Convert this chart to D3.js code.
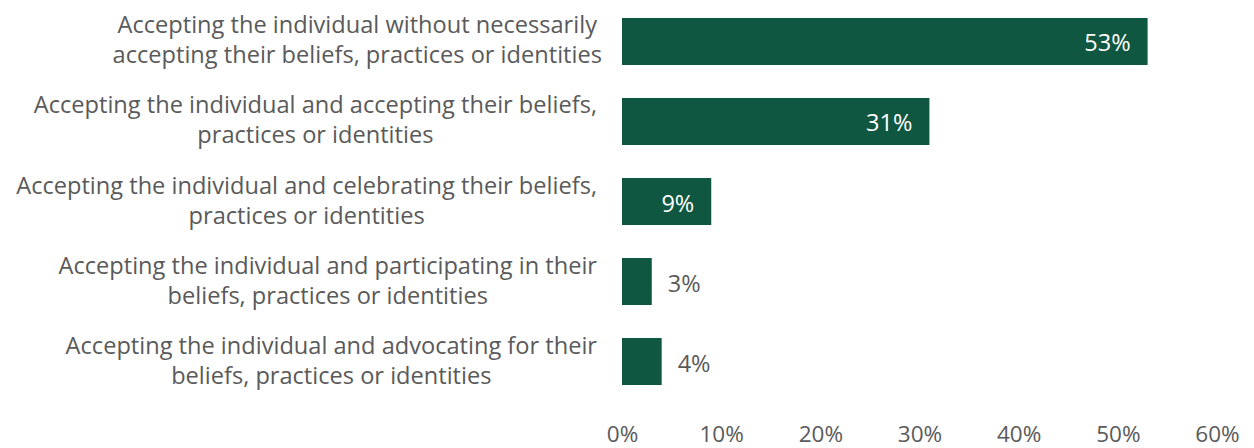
<!DOCTYPE html>
<html>
<head>
<meta charset="utf-8">
<script src="https://cdn.jsdelivr.net/npm/d3@7"></script>
<style>
  html, body { margin: 0; padding: 0; background: #fff; }
  svg { display: block; }
  text { font-family: "Open Sans", "Noto Sans", sans-serif; font-weight: 400; }
</style>
</head>
<body>
<svg id="chart" width="1254" height="448"></svg>
<script>
// Response categories (two-line labels) and share of respondents (%)
const categories = [
  ["Accepting the individual without necessarily", "accepting their beliefs, practices or identities"],
  ["Accepting the individual and accepting their beliefs,", "practices or identities"],
  ["Accepting the individual and celebrating their beliefs,", "practices or identities"],
  ["Accepting the individual and participating in their", "beliefs, practices or identities"],
  ["Accepting the individual and advocating for their", "beliefs, practices or identities"]
];
const values = [53, 31, 9, 3, 4];
const tickValues = [0, 10, 20, 30, 40, 50, 60];

const svg = d3.select("#chart");
const barColor = "#0f5741";
const textColor = "#5a5a5a";
const fontFamily = "'Open Sans', 'Noto Sans', sans-serif";
const labelRight = 597;

const x = d3.scaleLinear().domain([0, 60]).range([622, 1217]);
const y = d3.scaleBand()
  .domain(d3.range(categories.length))
  .range([1.5, 401.5])
  .paddingInner(0.4125)
  .paddingOuter(0.206);

// Bars
svg.append("g").selectAll("rect")
  .data(values)
  .join("rect")
  .attr("x", x(0))
  .attr("y", (d, i) => y(i))
  .attr("width", d => x(d) - x(0))
  .attr("height", y.bandwidth())
  .attr("fill", barColor);

// Value labels: inside the bar when it is wide enough, otherwise just past its end
svg.append("g").selectAll("text")
  .data(values)
  .join("text")
  .attr("x", d => d >= 8 ? x(d) - 17 : x(d) + 16)
  .attr("y", (d, i) => y(i) + y.bandwidth() / 2 + 10)
  .attr("text-anchor", d => d >= 8 ? "end" : "start")
  .attr("fill", d => d >= 8 ? "#ffffff" : textColor)
  .style("font-size", "23.5px")
  .text(d => d + "%");

// Category labels, right-aligned against the bars
const labels = svg.append("g").selectAll("text")
  .data(categories)
  .join("text")
  .attr("text-anchor", "end")
  .attr("fill", textColor)
  .style("font-size", "23.6px");

labels.each(function(lines, i) {
  const cy = y(i) + y.bandwidth() / 2;
  const t = d3.select(this);
  t.append("tspan")
    .attr("x", labelRight)
    .attr("y", cy - 8)
    .text(lines[0]);
  // second line is centred under the first
  t.append("tspan")
    .attr("y", cy + 22)
    .text(lines[1]);
});
labels.each(function() {
  const spans = d3.select(this).selectAll("tspan").nodes();
  const w0 = spans[0].getComputedTextLength();
  const w1 = spans[1].getComputedTextLength();
  d3.select(spans[1]).attr("x", labelRight - (w0 - w1) / 2);
});

// X axis (labels only)
const axis = d3.axisBottom(x)
  .tickValues(tickValues)
  .tickFormat(d => d + "%")
  .tickSize(0)
  .tickPadding(0);

const gx = svg.append("g")
  .call(axis);
gx.select(".domain").remove();
gx.selectAll("text")
  .attr("y", 442)
  .attr("dy", null)
  .attr("fill", textColor)
  .style("font-family", fontFamily)
  .style("font-size", "22.5px");
</script>
</body>
</html>
